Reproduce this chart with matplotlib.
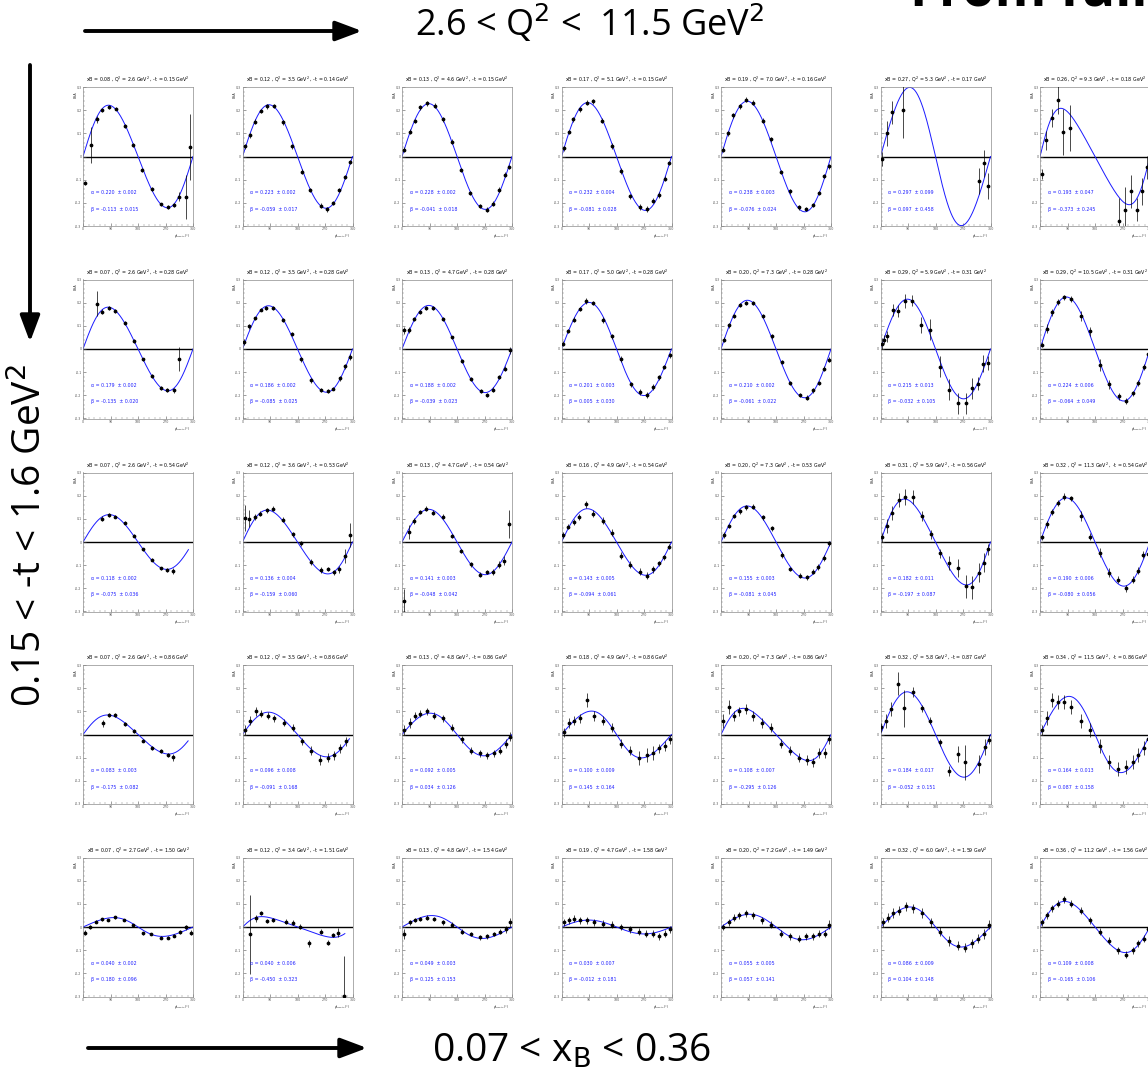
import numpy as np
import matplotlib
matplotlib.use('Agg')
import matplotlib.pyplot as plt
from matplotlib.patches import FancyArrowPatch

# ---- panel labels (row-major, 5 rows of -t, 7 columns of xB) ----
xb = [0.08, 0.12, 0.13, 0.17, 0.19, 0.27, 0.26,
      0.07, 0.12, 0.13, 0.17, 0.20, 0.29, 0.29,
      0.07, 0.12, 0.13, 0.16, 0.20, 0.31, 0.32,
      0.07, 0.12, 0.13, 0.18, 0.20, 0.32, 0.34,
      0.07, 0.12, 0.13, 0.19, 0.20, 0.32, 0.36]
q2 = [2.6, 3.5, 4.6, 5.1, 7.0, 5.3, 9.3,
      2.6, 3.5, 4.7, 5.0, 7.3, 5.9, 10.5,
      2.6, 3.6, 4.7, 4.9, 7.3, 5.9, 11.3,
      2.6, 3.5, 4.8, 4.9, 7.3, 5.8, 11.5,
      2.7, 3.4, 4.8, 4.7, 7.2, 6.0, 11.2]
mt = [0.15, 0.14, 0.15, 0.15, 0.16, 0.17, 0.18,
      0.28, 0.28, 0.28, 0.28, 0.28, 0.31, 0.31,
      0.54, 0.53, 0.54, 0.54, 0.53, 0.56, 0.54,
      0.86, 0.86, 0.86, 0.86, 0.86, 0.87, 0.86,
      1.50, 1.51, 1.54, 1.58, 1.49, 1.59, 1.56]

# ---- fit results: alpha sin(phi) / (1 + beta cos(phi)) ----
alpha = [0.220, 0.223, 0.228, 0.232, 0.238, 0.297, 0.193,
         0.179, 0.186, 0.188, 0.201, 0.210, 0.215, 0.224,
         0.118, 0.136, 0.141, 0.143, 0.155, 0.182, 0.190,
         0.083, 0.096, 0.092, 0.100, 0.108, 0.184, 0.164,
         0.040, 0.040, 0.049, 0.030, 0.055, 0.086, 0.109]
alpha_err = [0.002, 0.002, 0.002, 0.004, 0.003, 0.099, 0.047,
             0.002, 0.002, 0.002, 0.003, 0.002, 0.013, 0.006,
             0.002, 0.004, 0.003, 0.005, 0.003, 0.011, 0.006,
             0.003, 0.008, 0.005, 0.009, 0.007, 0.017, 0.013,
             0.002, 0.006, 0.003, 0.007, 0.005, 0.009, 0.008]
beta = [-0.113, -0.059, -0.041, -0.081, -0.076, 0.097, -0.373,
        -0.135, -0.085, -0.039, 0.005, -0.061, -0.032, -0.064,
        -0.075, -0.159, -0.048, -0.094, -0.081, -0.197, -0.080,
        -0.175, -0.091, 0.034, 0.145, -0.295, -0.052, 0.087,
        0.180, -0.450, 0.125, -0.012, 0.057, 0.104, -0.165]
beta_err = [0.015, 0.017, 0.018, 0.028, 0.024, 0.458, 0.245,
            0.020, 0.025, 0.023, 0.030, 0.022, 0.105, 0.049,
            0.036, 0.060, 0.042, 0.061, 0.045, 0.087, 0.056,
            0.082, 0.168, 0.126, 0.164, 0.126, 0.151, 0.158,
            0.096, 0.323, 0.153, 0.181, 0.141, 0.148, 0.106]
fit_end = [360, 360, 360, 360, 360, 360, 360,
           360, 360, 360, 360, 360, 360, 360,
           345, 360, 360, 360, 360, 360, 360,
           344, 350, 360, 360, 360, 360, 360,
           360, 335, 360, 360, 360, 360, 360]

# ---- data points per panel: phi (deg), BSA, error ----
phi_11 = [5, 25, 46, 63, 84, 107, 136, 164, 194, 225, 255, 277, 297, 314, 336, 349]
bsa_11 = [-0.114, 0.05, 0.161, 0.20, 0.214, 0.207, 0.133, 0.051, -0.057, -0.139, -0.207, -0.217, -0.21, -0.174, -0.174, 0.04]
err_11 = [0.01, 0.077, 0.015, 0.01, 0.008, 0.008, 0.008, 0.008, 0.008, 0.008, 0.008, 0.008, 0.01, 0.02, 0.095, 0.143]

phi_12 = [8, 24, 40, 59, 80, 102, 134, 163, 195, 222, 257, 277, 297, 317, 334, 351]
bsa_12 = [0.044, 0.092, 0.151, 0.197, 0.217, 0.218, 0.148, 0.044, -0.066, -0.145, -0.212, -0.228, -0.2, -0.145, -0.088, -0.023]
err_12 = [0.01] * 16

phi_13 = [8, 25, 41, 60, 82, 107, 134, 164, 194, 224, 254, 278, 298, 318, 336, 350]
bsa_13 = [0.03, 0.107, 0.154, 0.212, 0.23, 0.219, 0.161, 0.064, -0.059, -0.158, -0.213, -0.229, -0.204, -0.143, -0.078, -0.045]
err_13 = [0.01] * 16

phi_14 = [7, 23, 39, 60, 82, 102, 134, 165, 196, 224, 257, 279, 301, 320, 338, 353]
bsa_14 = [0.035, 0.106, 0.161, 0.204, 0.233, 0.238, 0.155, 0.045, -0.062, -0.172, -0.219, -0.226, -0.19, -0.167, -0.096, -0.028]
err_14 = [0.01, 0.01, 0.01, 0.01, 0.01, 0.012, 0.012, 0.012, 0.012, 0.012, 0.012, 0.012, 0.012, 0.012, 0.01, 0.01]

phi_15 = [5, 22, 40, 61, 82, 105, 136, 164, 196, 225, 254, 278, 301, 320, 338, 354]
bsa_15 = [0.03, 0.1, 0.178, 0.216, 0.245, 0.233, 0.155, 0.074, -0.067, -0.151, -0.219, -0.226, -0.209, -0.158, -0.084, -0.042]
err_15 = [0.01] * 16

phi_16 = [6, 20, 38, 75, 321, 339, 352]
bsa_16 = [-0.012, 0.1, 0.191, 0.2, -0.106, -0.03, -0.128]
err_16 = [0.03, 0.055, 0.05, 0.12, 0.055, 0.06, 0.055]

phi_17 = [5, 19, 38, 58, 76, 99, 257, 277, 297, 316, 334, 349]
bsa_17 = [-0.076, 0.07, 0.167, 0.244, 0.106, 0.123, -0.28, -0.23, -0.151, -0.23, -0.151, -0.047]
err_17 = [0.02, 0.04, 0.04, 0.06, 0.1, 0.1, 0.1, 0.1, 0.07, 0.05, 0.06, 0.05]

phi_21 = [46, 63, 84, 106, 136, 166, 196, 225, 254, 276, 297, 314]
bsa_21 = [0.196, 0.161, 0.178, 0.163, 0.111, 0.036, -0.045, -0.118, -0.167, -0.178, -0.178, -0.043]
err_21 = [0.055, 0.01, 0.008, 0.008, 0.008, 0.008, 0.008, 0.008, 0.008, 0.008, 0.01, 0.05]

phi_22 = [4, 22, 40, 59, 78, 100, 133, 162, 193, 225, 256, 279, 297, 319, 335, 352]
bsa_22 = [0.03, 0.098, 0.132, 0.17, 0.178, 0.178, 0.124, 0.065, -0.045, -0.135, -0.176, -0.181, -0.171, -0.127, -0.075, -0.035]
err_22 = [0.012, 0.01, 0.008, 0.008, 0.008, 0.008, 0.008, 0.01, 0.01, 0.01, 0.008, 0.008, 0.008, 0.01, 0.01, 0.012]

phi_23 = [7, 22, 40, 59, 80, 103, 134, 164, 195, 225, 257, 277, 299, 319, 336, 352]
bsa_23 = [0.081, 0.081, 0.131, 0.161, 0.178, 0.176, 0.131, 0.05, -0.053, -0.131, -0.181, -0.2, -0.176, -0.121, -0.085, -0.006]
err_23 = [0.015, 0.012, 0.008, 0.008, 0.008, 0.008, 0.008, 0.008, 0.008, 0.008, 0.008, 0.008, 0.01, 0.01, 0.01, 0.015]

phi_24 = [6, 22, 40, 59, 79, 102, 137, 165, 194, 226, 257, 281, 300, 319, 337, 354]
bsa_24 = [0.023, 0.077, 0.126, 0.172, 0.206, 0.199, 0.125, 0.054, -0.043, -0.153, -0.185, -0.199, -0.163, -0.123, -0.077, -0.027]
err_24 = [0.01, 0.01, 0.01, 0.01, 0.012, 0.01, 0.012, 0.01, 0.012, 0.012, 0.012, 0.012, 0.012, 0.01, 0.01, 0.01]

phi_25 = [10, 26, 43, 63, 83, 105, 137, 166, 198, 227, 257, 281, 302, 320, 338, 353]
bsa_25 = [0.04, 0.102, 0.142, 0.19, 0.199, 0.199, 0.142, 0.054, -0.056, -0.146, -0.199, -0.21, -0.178, -0.146, -0.085, -0.046]
err_25 = [0.01] * 16

phi_26 = [5, 11, 22, 40, 57, 79, 104, 133, 162, 194, 224, 253, 280, 299, 320, 337, 351]
bsa_26 = [0.023, 0.04, 0.054, 0.169, 0.163, 0.206, 0.209, 0.102, 0.083, -0.077, -0.175, -0.235, -0.235, -0.17, -0.149, -0.063, -0.06]
err_26 = [0.025, 0.02, 0.025, 0.025, 0.025, 0.03, 0.025, 0.035, 0.045, 0.045, 0.045, 0.045, 0.045, 0.045, 0.03, 0.035, 0.03]

phi_27 = [8, 22, 40, 60, 80, 102, 134, 165, 195, 226, 258, 281, 303, 322, 340, 355]
bsa_27 = [0.019, 0.087, 0.158, 0.202, 0.223, 0.216, 0.142, 0.077, -0.07, -0.152, -0.203, -0.225, -0.192, -0.146, -0.077, -0.023]
err_27 = [0.01, 0.02, 0.015, 0.012, 0.012, 0.012, 0.02, 0.02, 0.025, 0.02, 0.015, 0.012, 0.012, 0.012, 0.012, 0.01]

phi_31 = [63, 84, 106, 136, 166, 196, 225, 254, 276, 296]
bsa_31 = [0.101, 0.116, 0.109, 0.083, 0.027, -0.031, -0.077, -0.113, -0.12, -0.124]
err_31 = [0.012, 0.008, 0.006, 0.006, 0.006, 0.006, 0.006, 0.006, 0.008, 0.012]

phi_32 = [7, 22, 41, 57, 79, 101, 133, 164, 193, 225, 257, 280, 298, 316, 335, 351]
bsa_32 = [0.104, 0.101, 0.109, 0.123, 0.137, 0.144, 0.097, 0.033, -0.006, -0.087, -0.12, -0.116, -0.131, -0.117, -0.06, 0.03]
err_32 = [0.055, 0.035, 0.012, 0.01, 0.01, 0.01, 0.012, 0.012, 0.012, 0.012, 0.012, 0.01, 0.012, 0.015, 0.03, 0.05]

phi_33 = [7, 22, 40, 58, 80, 103, 133, 164, 194, 225, 256, 277, 298, 318, 334, 351]
bsa_33 = [-0.253, 0.044, 0.091, 0.13, 0.144, 0.127, 0.109, 0.026, -0.039, -0.096, -0.141, -0.13, -0.13, -0.099, -0.081, 0.076]
err_33 = [0.05, 0.03, 0.012, 0.01, 0.01, 0.01, 0.01, 0.01, 0.01, 0.01, 0.01, 0.01, 0.012, 0.015, 0.02, 0.06]

phi_34 = [6, 22, 40, 57, 79, 103, 137, 165, 194, 223, 257, 281, 301, 319, 337, 352]
bsa_34 = [0.03, 0.066, 0.087, 0.109, 0.163, 0.123, 0.092, 0.04, -0.059, -0.099, -0.128, -0.145, -0.117, -0.092, -0.066, -0.02]
err_34 = [0.012, 0.012, 0.012, 0.012, 0.015, 0.015, 0.015, 0.015, 0.015, 0.015, 0.015, 0.015, 0.015, 0.012, 0.012, 0.012]

phi_35 = [10, 26, 44, 63, 83, 106, 137, 166, 198, 227, 257, 282, 302, 319, 336, 352]
bsa_35 = [0.03, 0.069, 0.113, 0.133, 0.149, 0.152, 0.107, 0.059, -0.056, -0.116, -0.145, -0.152, -0.128, -0.109, -0.07, -0.006]
err_35 = [0.012, 0.01, 0.01, 0.01, 0.01, 0.01, 0.01, 0.012, 0.012, 0.01, 0.01, 0.01, 0.012, 0.012, 0.012, 0.012]

phi_36 = [5, 20, 38, 59, 79, 105, 135, 165, 194, 223, 253, 281, 300, 323, 338, 351]
bsa_36 = [0.02, 0.069, 0.126, 0.183, 0.195, 0.195, 0.112, 0.033, -0.049, -0.089, -0.113, -0.192, -0.196, -0.132, -0.089, -0.032]
err_36 = [0.02, 0.03, 0.03, 0.03, 0.035, 0.03, 0.02, 0.02, 0.02, 0.03, 0.04, 0.05, 0.05, 0.04, 0.04, 0.025]

phi_37 = [8, 22, 40, 60, 80, 102, 134, 165, 195, 226, 256, 281, 303, 320, 338, 353]
bsa_37 = [0.02, 0.077, 0.13, 0.169, 0.195, 0.188, 0.112, 0.023, -0.046, -0.132, -0.163, -0.199, -0.163, -0.125, -0.056, -0.052]
err_37 = [0.012, 0.015, 0.012, 0.012, 0.015, 0.012, 0.02, 0.015, 0.02, 0.02, 0.015, 0.015, 0.015, 0.015, 0.015, 0.015]

phi_41 = [65, 84, 106, 136, 166, 196, 225, 254, 278, 296]
bsa_41 = [0.049, 0.084, 0.083, 0.044, 0.016, -0.026, -0.059, -0.07, -0.087, -0.099]
err_41 = [0.015, 0.008, 0.008, 0.008, 0.008, 0.008, 0.008, 0.008, 0.008, 0.015]

phi_42 = [8, 25, 44, 62, 82, 104, 135, 165, 195, 225, 255, 280, 300, 318, 338]
bsa_42 = [0.02, 0.06, 0.10, 0.09, 0.08, 0.07, 0.05, 0.03, -0.03, -0.07, -0.11, -0.10, -0.09, -0.06, -0.03]
err_42 = [0.02, 0.02, 0.02, 0.015, 0.015, 0.015, 0.015, 0.015, 0.015, 0.02, 0.02, 0.02, 0.02, 0.02, 0.02]

phi_43 = [8, 25, 42, 60, 82, 105, 135, 165, 195, 225, 255, 278, 300, 320, 340, 355]
bsa_43 = [0.02, 0.05, 0.08, 0.09, 0.10, 0.08, 0.07, 0.03, -0.02, -0.07, -0.08, -0.09, -0.08, -0.07, -0.04, -0.01]
err_43 = [0.02, 0.02, 0.015, 0.015, 0.015, 0.015, 0.015, 0.015, 0.015, 0.015, 0.015, 0.015, 0.015, 0.015, 0.02, 0.02]

phi_44 = [8, 25, 42, 60, 85, 105, 135, 165, 195, 225, 255, 280, 300, 320, 340, 355]
bsa_44 = [0.01, 0.05, 0.06, 0.07, 0.15, 0.08, 0.06, 0.03, -0.04, -0.07, -0.10, -0.09, -0.08, -0.06, -0.05, -0.02]
err_44 = [0.02, 0.02, 0.02, 0.02, 0.03, 0.02, 0.02, 0.02, 0.02, 0.02, 0.03, 0.03, 0.03, 0.02, 0.02, 0.02]

phi_45 = [8, 25, 42, 60, 82, 105, 135, 165, 195, 225, 255, 280, 300, 320, 340, 355]
bsa_45 = [0.06, 0.12, 0.08, 0.10, 0.11, 0.08, 0.05, 0.03, -0.04, -0.07, -0.10, -0.11, -0.12, -0.08, -0.08, -0.02]
err_45 = [0.03, 0.03, 0.02, 0.02, 0.02, 0.02, 0.02, 0.02, 0.02, 0.02, 0.02, 0.02, 0.02, 0.02, 0.02, 0.02]

phi_46 = [3, 18, 35, 56, 78, 106, 135, 162, 194, 223, 253, 278, 323, 342, 354]
bsa_46 = [0.031, 0.059, 0.11, 0.22, 0.113, 0.184, 0.113, 0.06, -0.034, -0.157, -0.083, -0.12, -0.127, -0.054, -0.023]
err_46 = [0.02, 0.03, 0.03, 0.05, 0.08, 0.02, 0.015, 0.015, 0.015, 0.02, 0.035, 0.075, 0.04, 0.035, 0.02]

phi_47 = [8, 22, 40, 60, 80, 102, 134, 165, 195, 226, 256, 281, 303, 322, 340, 355]
bsa_47 = [0.02, 0.07, 0.15, 0.14, 0.14, 0.12, 0.06, 0.02, -0.05, -0.12, -0.15, -0.14, -0.12, -0.09, -0.06, -0.02]
err_47 = [0.02, 0.03, 0.03, 0.03, 0.03, 0.03, 0.03, 0.03, 0.03, 0.03, 0.03, 0.03, 0.03, 0.03, 0.03, 0.02]

phi_51 = [7, 22, 42, 61, 82, 105, 135, 165, 195, 224, 256, 278, 297, 316, 336, 352]
bsa_51 = [-0.024, 0.001, 0.023, 0.033, 0.03, 0.042, 0.03, 0.009, -0.027, -0.03, -0.046, -0.046, -0.037, -0.023, -0.001, -0.024]
err_51 = [0.01, 0.008, 0.006, 0.006, 0.006, 0.006, 0.006, 0.006, 0.006, 0.006, 0.006, 0.006, 0.006, 0.008, 0.01, 0.012]

phi_52 = [26, 45, 62, 80, 100, 141, 165, 189, 219, 257, 280, 296, 311, 333]
bsa_52 = [-0.031, 0.038, 0.06, 0.026, 0.031, 0.023, 0.019, 0.001, -0.071, -0.02, -0.068, -0.035, -0.025, -0.297]
err_52 = [0.17, 0.015, 0.01, 0.01, 0.01, 0.01, 0.01, 0.01, 0.015, 0.01, 0.01, 0.01, 0.02, 0.17]

phi_53 = [8, 25, 42, 60, 82, 105, 135, 165, 195, 225, 255, 278, 300, 320, 340, 355]
bsa_53 = [-0.03, 0.02, 0.03, 0.035, 0.04, 0.035, 0.02, 0.01, -0.02, -0.03, -0.045, -0.04, -0.03, -0.02, -0.01, 0.02]
err_53 = [0.02, 0.01, 0.01, 0.01, 0.01, 0.01, 0.01, 0.01, 0.01, 0.01, 0.01, 0.01, 0.01, 0.01, 0.015, 0.02]

phi_54 = [8, 25, 42, 60, 82, 105, 135, 165, 195, 225, 255, 278, 300, 320, 340, 355]
bsa_54 = [0.02, 0.03, 0.035, 0.03, 0.03, 0.02, 0.015, 0.01, 0.0, -0.01, -0.02, -0.03, -0.03, -0.04, -0.03, -0.01]
err_54 = [0.015] * 16

phi_55 = [8, 25, 42, 60, 82, 105, 135, 165, 195, 225, 255, 278, 300, 320, 340, 355]
bsa_55 = [0.0, 0.02, 0.04, 0.05, 0.06, 0.05, 0.03, 0.01, -0.03, -0.04, -0.05, -0.04, -0.04, -0.03, -0.03, 0.01]
err_55 = [0.015, 0.015, 0.015, 0.015, 0.015, 0.015, 0.015, 0.015, 0.015, 0.015, 0.015, 0.015, 0.015, 0.015, 0.015, 0.02]

phi_56 = [8, 25, 42, 60, 82, 105, 135, 165, 195, 225, 255, 278, 300, 320, 340, 355]
bsa_56 = [0.02, 0.04, 0.06, 0.07, 0.09, 0.08, 0.06, 0.02, -0.02, -0.06, -0.08, -0.09, -0.07, -0.05, -0.03, 0.01]
err_56 = [0.02] * 16

phi_57 = [8, 22, 40, 60, 80, 102, 134, 165, 195, 226, 256, 281, 303, 322, 340, 355]
bsa_57 = [0.02, 0.05, 0.08, 0.1, 0.12, 0.1, 0.07, 0.03, -0.02, -0.06, -0.1, -0.12, -0.1, -0.07, -0.05, -0.01]
err_57 = [0.015] * 16

phis = [phi_11, phi_12, phi_13, phi_14, phi_15, phi_16, phi_17,
        phi_21, phi_22, phi_23, phi_24, phi_25, phi_26, phi_27,
        phi_31, phi_32, phi_33, phi_34, phi_35, phi_36, phi_37,
        phi_41, phi_42, phi_43, phi_44, phi_45, phi_46, phi_47,
        phi_51, phi_52, phi_53, phi_54, phi_55, phi_56, phi_57]
bsas = [bsa_11, bsa_12, bsa_13, bsa_14, bsa_15, bsa_16, bsa_17,
        bsa_21, bsa_22, bsa_23, bsa_24, bsa_25, bsa_26, bsa_27,
        bsa_31, bsa_32, bsa_33, bsa_34, bsa_35, bsa_36, bsa_37,
        bsa_41, bsa_42, bsa_43, bsa_44, bsa_45, bsa_46, bsa_47,
        bsa_51, bsa_52, bsa_53, bsa_54, bsa_55, bsa_56, bsa_57]
errs = [err_11, err_12, err_13, err_14, err_15, err_16, err_17,
        err_21, err_22, err_23, err_24, err_25, err_26, err_27,
        err_31, err_32, err_33, err_34, err_35, err_36, err_37,
        err_41, err_42, err_43, err_44, err_45, err_46, err_47,
        err_51, err_52, err_53, err_54, err_55, err_56, err_57]

# ---- figure layout (pixels) ----
W, H = 1148, 1079
fig = plt.figure(figsize=(W / 100, H / 100), dpi=100)
fig.patch.set_facecolor('white')

col_left = [83, 242.5, 402, 561.5, 721, 880.5, 1040]
row_top = [87, 279.5, 472.5, 665, 857.5]
ax_w, ax_h = 110, 139

small = ['Liberation Sans Narrow', 'DejaVu Sans']

for i in range(35):
    r, c = divmod(i, 7)
    x0, y0 = col_left[c], row_top[r]
    ax = fig.add_axes([x0 / W, 1 - (y0 + ax_h) / H, ax_w / W, ax_h / H])
    ax.set_xlim(0, 360)
    ax.set_ylim(-0.3, 0.3)

    # fit curve
    f = np.linspace(0, fit_end[i], 300)
    rad = np.radians(f)
    ax.plot(f, alpha[i] * np.sin(rad) / (1 + beta[i] * np.cos(rad)),
            color='#1a1aff', lw=0.7, zorder=2)
    ax.axhline(0, color='black', lw=1.0, zorder=1)

    # data points
    ax.errorbar(phis[i], bsas[i], yerr=errs[i], fmt='o', ms=1.7,
                color='black', ecolor='black', elinewidth=0.5, capsize=0, zorder=3)

    # ROOT-like frame and ticks
    for s in ax.spines.values():
        s.set_color('#8c8c8c')
        s.set_linewidth(0.5)
    ax.set_xticks([0, 90, 180, 270, 360])
    ax.set_yticks([-0.3, -0.2, -0.1, 0, 0.1, 0.2, 0.3])
    ax.set_xticklabels(['0', '90', '180', '270', '360'])
    ax.set_yticklabels(['-0.3', '-0.2', '-0.1', '0', '0.1', '0.2', '0.3'])
    ax.set_xticks(np.arange(0, 361, 18), minor=True)
    ax.set_yticks(np.arange(-0.3, 0.301, 0.02), minor=True)
    ax.tick_params(which='major', direction='in', length=2.2, width=0.4,
                   labelsize=2.3, pad=1, colors='#555555')
    ax.tick_params(which='minor', direction='in', length=1.1, width=0.3, colors='#777777')
    ax.tick_params(top=False, right=False)

    ax.set_title('xB = %.2f , Q$^{2}$ = %.1f GeV$^{2}$ , -t = %.2f GeV$^{2}$' % (xb[i], q2[i], mt[i]),
                 fontsize=3.4, pad=4, family=small)
    ax.text(-0.05, 0.97, 'BSA', transform=ax.transAxes, rotation=90,
            fontsize=2.3, ha='right', va='top', family=small, color='#333333')
    ax.text(0.98, -0.045, '$\\phi_{Trento}$ (°)', transform=ax.transAxes,
            fontsize=2.3, ha='right', va='top', family=small, color='#333333')

    ax.text(0.07, 0.24, 'α = %.3f  ± %.3f' % (alpha[i], alpha_err[i]),
            transform=ax.transAxes, color='#2020ff', fontsize=3.4, family=small, va='center')
    ax.text(0.07, 0.12, 'β = %.3f  ± %.3f' % (beta[i], beta_err[i]),
            transform=ax.transAxes, color='#2020ff', fontsize=3.4, family=small, va='center')

# ---- slide-level annotations ----
big = ['Open Sans', 'DejaVu Sans']
arrow = dict(arrowstyle='-|>,head_length=1.6,head_width=0.6', mutation_scale=10,
             color='black', lw=2.8, shrinkA=0, shrinkB=0)

fig.text(415 / W, 1 - 24 / H, '2.6 < Q$^{2}$ <  11.5 GeV$^{2}$', fontsize=26,
         family=big, ha='left', va='center')
fig.text(910 / W, 1 - 5 / H, 'From full', fontsize=38, weight='bold',
         family=big, ha='left', va='baseline')
fig.text(432 / W, 1 - 1052 / H, '0.07 < x$_{\\mathrm{B}}$ < 0.36', fontsize=28,
         family=big, ha='left', va='center')
fig.text(30 / W, 1 - 535 / H, '0.15 < -t < 1.6 GeV$^{2}$', fontsize=28,
         family=big, ha='center', va='center', rotation=90)

fig.add_artist(FancyArrowPatch((85 / W, 1 - 31 / H), (362 / W, 1 - 31 / H),
                               transform=fig.transFigure, **arrow))
fig.add_artist(FancyArrowPatch((88 / W, 1 - 1048 / H), (367 / W, 1 - 1048 / H),
                               transform=fig.transFigure, **arrow))
fig.add_artist(FancyArrowPatch((30 / W, 1 - 65 / H), (30 / W, 1 - 342 / H),
                               transform=fig.transFigure, **arrow))

fig.savefig('out.png', dpi=100)
